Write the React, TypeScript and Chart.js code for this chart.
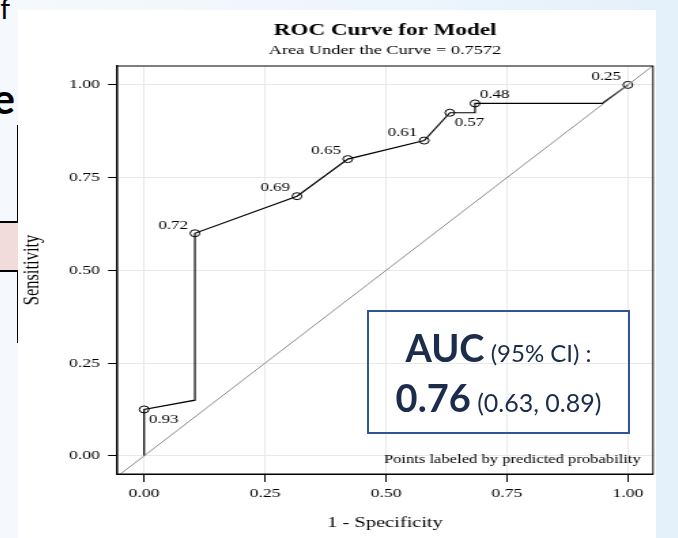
import React, { useEffect, useRef } from 'react';
import { Chart, registerables } from 'chart.js';

Chart.register(...registerables);

// ---- data ----
const rocFpr = [0, 0, 0.105, 0.105, 0.316, 0.421, 0.579, 0.632, 0.684, 0.684, 0.947, 1];
const rocTpr = [0, 0.125, 0.15, 0.6, 0.7, 0.8, 0.85, 0.925, 0.925, 0.95, 0.95, 1];
const markerFpr = [0, 0.105, 0.316, 0.421, 0.579, 0.632, 0.684, 1];
const markerTpr = [0.125, 0.6, 0.7, 0.8, 0.85, 0.925, 0.95, 1];
const markerLabels = ['0.93', '0.72', '0.69', '0.65', '0.61', '0.57', '0.48', '0.25'];
const labelPlacement = ['lr', 'ul', 'ul', 'ul', 'ul', 'lr', 'ur', 'ul'];
const refLineX = [-0.06, 1.06];
const refLineY = [-0.06, 1.06];
const tickValues = [0, 0.25, 0.5, 0.75, 1];
const tickLabels = ['0.00', '0.25', '0.50', '0.75', '1.00'];

const SERIF = '"Liberation Serif", "Times New Roman", serif';
const LOGICAL_W = 469;
const LOGICAL_H = 528;
const STRETCH = 638 / LOGICAL_W;

const overlayPlugin = {
  id: 'overlayPlugin',
  afterDatasetsDraw(chart: any) {
    const { ctx, chartArea: a, scales } = chart;
    ctx.save();
    ctx.strokeStyle = '#000';
    ctx.lineWidth = 1;
    ctx.strokeRect(a.left, a.top, a.right - a.left, a.bottom - a.top);

    ctx.fillStyle = '#000';
    ctx.font = `12.5px ${SERIF}`;
    ctx.textBaseline = 'middle';
    markerLabels.forEach((t, i) => {
      const px = scales.x.getPixelForValue(markerFpr[i]);
      const py = scales.y.getPixelForValue(markerTpr[i]);
      const p = labelPlacement[i];
      if (p === 'ul') {
        ctx.textAlign = 'right';
        ctx.fillText(t, px - 5, py - 8);
      } else if (p === 'lr') {
        ctx.textAlign = 'left';
        ctx.fillText(t, px + 3.5, py + 10);
      } else {
        ctx.textAlign = 'left';
        ctx.fillText(t, px + 3.5, py - 9);
      }
    });

    ctx.font = `12.2px ${SERIF}`;
    ctx.textAlign = 'right';
    ctx.fillText('Points labeled by predicted probability', a.right - 9, a.bottom - 14);
    ctx.restore();
  },
};

function RocChart() {
  const ref = useRef<HTMLCanvasElement | null>(null);
  useEffect(() => {
    if (!ref.current) return;
    const chart = new Chart(ref.current, {
      type: 'scatter',
      data: {
        datasets: [
          {
            data: refLineX.map((x, i) => ({ x, y: refLineY[i] })),
            showLine: true,
            borderColor: '#8a8a8a',
            borderWidth: 1,
            pointRadius: 0,
            clip: 0,
          } as any,
          {
            data: rocFpr.map((x, i) => ({ x, y: rocTpr[i] })),
            showLine: true,
            borderColor: '#000',
            borderWidth: 1.2,
            pointRadius: 0,
            tension: 0,
          },
          {
            data: markerFpr.map((x, i) => ({ x, y: markerTpr[i] })),
            showLine: false,
            pointStyle: 'circle',
            pointRadius: 3.5,
            pointBorderWidth: 1,
            pointBorderColor: '#000',
            pointBackgroundColor: 'rgba(0,0,0,0)',
          },
        ],
      },
      options: {
        responsive: false,
        maintainAspectRatio: false,
        animation: false,
        layout: { autoPadding: false, padding: { top: 0, left: 0, right: 2.2, bottom: 0 } },
        plugins: {
          legend: { display: false },
          tooltip: { enabled: false },
          title: {
            display: true,
            fullSize: false,
            text: 'ROC Curve for Model',
            color: '#000',
            font: { family: SERIF, size: 17, weight: 'bold' },
            padding: { top: 10.6, bottom: 0 },
          },
          subtitle: {
            display: true,
            fullSize: false,
            text: 'Area Under the Curve = 0.7572',
            color: '#000',
            font: { family: SERIF, size: 13.5 },
            padding: { top: 1.2, bottom: 7.6 },
          },
        },
        scales: {
          x: {
            type: 'linear',
            min: -0.056,
            max: 1.052,
            afterBuildTicks: (s: any) => {
              s.ticks = tickValues.map((v) => ({ value: v }));
            },
            afterFit: (s: any) => {
              s.height = 64;
            },
            ticks: {
              autoSkip: false,
              maxRotation: 0,
              color: '#000',
              padding: 3.5,
              font: { family: SERIF, size: 13 },
              callback: (_v: any, i: number) => tickLabels[i],
            },
            grid: { color: '#e9e9e9', tickColor: '#000', tickLength: 8, lineWidth: 1 },
            border: { display: true, color: '#000', width: 1 },
            title: {
              display: true,
              text: '1 - Specificity',
              color: '#000',
              font: { family: SERIF, size: 15 },
              padding: { top: 0, bottom: 6 },
            },
          },
          y: {
            type: 'linear',
            min: -0.049,
            max: 1.051,
            afterBuildTicks: (s: any) => {
              s.ticks = tickValues.map((v) => ({ value: v }));
            },
            afterFit: (s: any) => {
              s.width = 72.8;
            },
            ticks: {
              autoSkip: false,
              color: '#000',
              padding: 6,
              font: { family: SERIF, size: 13 },
              callback: (_v: any, i: number) => tickLabels[i],
            },
            grid: { color: '#e9e9e9', tickColor: '#000', tickLength: 6.6, lineWidth: 1 },
            border: { display: true, color: '#000', width: 1.4 },
            title: {
              display: true,
              text: 'Sensitivity',
              color: '#000',
              font: { family: SERIF, size: 16.5 },
              padding: { top: 0.5, bottom: 0 },
            },
          },
        },
      } as any,
      plugins: [overlayPlugin],
    });
    return () => chart.destroy();
  }, []);

  return (
    <canvas
      ref={ref}
      width={LOGICAL_W}
      height={LOGICAL_H}
      style={{ display: 'block', width: LOGICAL_W, height: LOGICAL_H }}
    />
  );
}

export default function App() {
  const navy = '#1c2d4c';
  const boxFont = 'Lato, "Open Sans", sans-serif';
  return (
    <div
      style={{
        position: 'fixed',
        left: 0,
        top: 0,
        width: 678,
        height: 538,
        overflow: 'hidden',
        background: 'linear-gradient(90deg, #f5f9fd 0%, #eef5fb 60%, #e4f0fa 100%)',
      }}
    >
      {/* slide fragments on the left */}
      <div
        style={{
          position: 'absolute',
          left: -14,
          top: -9,
          width: 24,
          textAlign: 'right',
          font: `normal 28px ${boxFont}`,
          color: '#000',
          lineHeight: '34px',
        }}
      >
        f
      </div>
      <div
        style={{
          position: 'absolute',
          left: -18,
          top: 73,
          width: 33,
          textAlign: 'right',
          font: `bold 42px ${boxFont}`,
          color: '#000',
          lineHeight: '50px',
        }}
      >
        e
      </div>
      <div style={{ position: 'absolute', left: 17, top: 125, width: 2, height: 218, background: '#000' }} />
      <div
        style={{
          position: 'absolute',
          left: 0,
          top: 221,
          width: 18,
          height: 47,
          background: '#f2dcdb',
          borderTop: '2px solid #000',
          borderBottom: '2px solid #000',
        }}
      />

      {/* white chart card */}
      <div style={{ position: 'absolute', left: 18, top: 10, width: 638, height: 528, background: '#fff' }}>
        <div style={{ transform: `scaleX(${STRETCH})`, transformOrigin: '0 0', width: LOGICAL_W, height: LOGICAL_H }}>
          <RocChart />
        </div>
      </div>

      {/* AUC annotation box */}
      <div
        style={{
          position: 'absolute',
          left: 367,
          top: 310,
          width: 259,
          height: 120,
          border: '2px solid #2f5597',
          color: navy,
          fontFamily: boxFont,
        }}
      >
        <div style={{ position: 'absolute', left: 0, right: 0, top: 16, textAlign: 'center', lineHeight: 1, whiteSpace: 'nowrap' }}>
          <span style={{ fontSize: 38, fontWeight: 'bold' }}>AUC</span>
          <span style={{ fontSize: 24 }}> (95% CI) :</span>
        </div>
        <div style={{ position: 'absolute', left: 0, right: 0, top: 66, textAlign: 'center', lineHeight: 1, whiteSpace: 'nowrap' }}>
          <span style={{ fontSize: 38, fontWeight: 'bold' }}>0.76</span>
          <span style={{ fontSize: 25 }}> (0.63, 0.89)</span>
        </div>
      </div>
    </div>
  );
}
